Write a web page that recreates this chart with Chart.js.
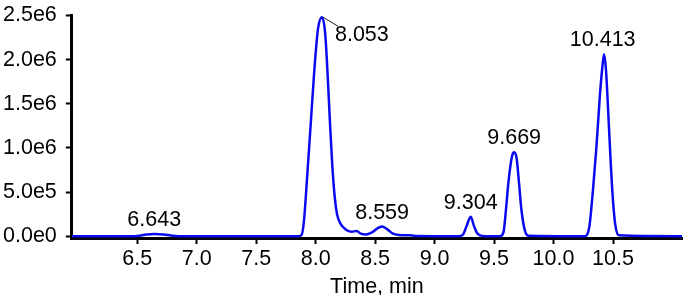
<!DOCTYPE html>
<html>
<head>
<meta charset="utf-8">
<title>Chromatogram</title>
<script src="https://cdn.jsdelivr.net/npm/chart.js@4.4.1/dist/chart.umd.min.js"></script>
<style>
    html, body { margin: 0; padding: 0; background: #ffffff; }
    #wrap { width: 685px; height: 295px; }
</style>
</head>
<body>
<div id="wrap"><canvas id="chromChart" width="685" height="295"></canvas></div>
<script>
// Chromatogram - intensity vs retention time

// Retention time (min) and intensity
const times = [
    5.95, 6.40, 6.50, 6.58, 6.643, 6.72, 6.80, 6.90,
    7.85, 7.88, 7.90, 7.93, 7.96, 7.99, 8.02, 8.053, 8.08, 8.10, 8.12, 8.14, 8.16, 8.18, 8.21, 8.25,
    8.30, 8.345, 8.38, 8.42, 8.47, 8.52, 8.559, 8.60, 8.65, 8.70, 8.80, 8.85,
    9.20, 9.24, 9.27, 9.304, 9.33, 9.36, 9.40,
    9.55, 9.58, 9.60, 9.62, 9.65, 9.669, 9.69, 9.71, 9.73, 9.76, 9.79,
    10.26, 10.30, 10.33, 10.36, 10.39, 10.413, 10.425, 10.44, 10.46, 10.48, 10.50, 10.52, 10.55,
    11.08
];
const intensity = [
    0, 0, 0.004e6, 0.02e6, 0.025e6, 0.02e6, 0.006e6, 0,
    0, 0.01e6, 0.15e6, 0.70e6, 1.30e6, 1.90e6, 2.35e6, 2.48e6, 2.30e6, 1.85e6, 1.30e6, 0.80e6, 0.45e6, 0.25e6, 0.14e6, 0.08e6,
    0.05e6, 0.06e6, 0.03e6, 0.02e6, 0.04e6, 0.09e6, 0.11e6, 0.08e6, 0.03e6, 0.015e6, 0.01e6, 0.003e6,
    0, 0.02e6, 0.12e6, 0.22e6, 0.12e6, 0.03e6, 0.004e6,
    0, 0.05e6, 0.30e6, 0.60e6, 0.90e6, 0.95e6, 0.88e6, 0.60e6, 0.30e6, 0.06e6, 0.005e6,
    0, 0.10e6, 0.50e6, 1.00e6, 1.60e6, 1.95e6, 2.06e6, 1.90e6, 1.40e6, 0.85e6, 0.40e6, 0.12e6, 0.01e6,
    0
];

// Labelled peaks (retention times)
const peakTimes = [6.643, 8.053, 8.559, 9.304, 9.669, 10.413];
const peakLabels = ['6.643', '8.053', '8.559', '9.304', '9.669', '10.413'];

// Axis ticks
const xTickValues = [6.5, 7.0, 7.5, 8.0, 8.5, 9.0, 9.5, 10.0, 10.5];
const yTickValues = [0, 0.5e6, 1.0e6, 1.5e6, 2.0e6, 2.5e6];

const FONT = '"Liberation Sans", Arial, Helvetica, sans-serif';
const FONT_SIZE = 21.5;

// Peak labels drawn over the trace
const peakLabelPlugin = {
    id: 'peakLabels',
    afterDatasetsDraw(chart) {
        const ctx = chart.ctx;
        const xs = chart.scales.x;
        const ys = chart.scales.y;
        ctx.save();
        ctx.font = FONT_SIZE + 'px ' + FONT;
        ctx.fillStyle = '#000';
        peakTimes.forEach((t, i) => {
            // highest point of the trace near this peak
            let top = 0;
            times.forEach((tt, j) => {
                if (Math.abs(tt - t) < 0.03 && intensity[j] > top) top = intensity[j];
            });
            const px = xs.getPixelForValue(t);
            const py = ys.getPixelForValue(top);
            if (py - 28 < chart.chartArea.top) {
                // no room above: leader line off to the right
                ctx.strokeStyle = '#222';
                ctx.lineWidth = 1;
                ctx.beginPath();
                ctx.moveTo(px + 1, py);
                ctx.lineTo(px + 16, py + 9);
                ctx.stroke();
                ctx.textAlign = 'left';
                ctx.textBaseline = 'middle';
                ctx.fillText(peakLabels[i], px + 13, py + 18);
            } else {
                ctx.textAlign = 'center';
                ctx.textBaseline = 'alphabetic';
                ctx.fillText(peakLabels[i], px, py - 8);
            }
        });
        ctx.restore();
    }
};

const ctx = document.getElementById('chromChart').getContext('2d');
const chromChart = new Chart(ctx, {
    type: 'line',
    data: {
        datasets: [{
            data: times.map((t, i) => ({ x: t, y: intensity[i] })),
            borderColor: '#0a0aee',
            borderWidth: 2.5,
            pointRadius: 0,
            fill: false,
            cubicInterpolationMode: 'monotone'
        }]
    },
    options: {
        responsive: false,
        animation: false,
        devicePixelRatio: 1,
        layout: { padding: { left: -6, right: 3, top: 0, bottom: -5 } },
        plugins: {
            legend: { display: false },
            tooltip: { enabled: false }
        },
        scales: {
            x: {
                type: 'linear',
                min: 5.95,
                max: 11.08,
                afterBuildTicks: axis => { axis.ticks = xTickValues.map(v => ({ value: v })); },
                border: { color: '#000', width: 3 },
                grid: { drawOnChartArea: false, drawTicks: true, tickLength: 6, tickColor: '#000', tickWidth: 2 },
                ticks: {
                    color: '#000',
                    font: { family: FONT, size: FONT_SIZE, lineHeight: 1.0 },
                    padding: 4,
                    maxRotation: 0,
                    callback: v => Number(v).toFixed(1)
                },
                title: {
                    display: true,
                    text: 'Time, min',
                    color: '#000',
                    font: { family: FONT, size: FONT_SIZE, lineHeight: 1.0 },
                    padding: { top: 3, bottom: 2 }
                }
            },
            y: {
                min: -0.02e6,
                max: 2.5e6,
                afterBuildTicks: axis => { axis.ticks = yTickValues.map(v => ({ value: v })); },
                border: { color: '#000', width: 3 },
                grid: { drawOnChartArea: false, drawTicks: true, tickLength: 6, tickColor: '#000', tickWidth: 2 },
                ticks: {
                    color: '#000',
                    font: { family: FONT, size: FONT_SIZE, lineHeight: 0.6 },
                    padding: 9,
                    callback: v => Number(v).toExponential(1).replace('e+', 'e')
                }
            }
        }
    },
    plugins: [peakLabelPlugin]
});
</script>
</body>
</html>
